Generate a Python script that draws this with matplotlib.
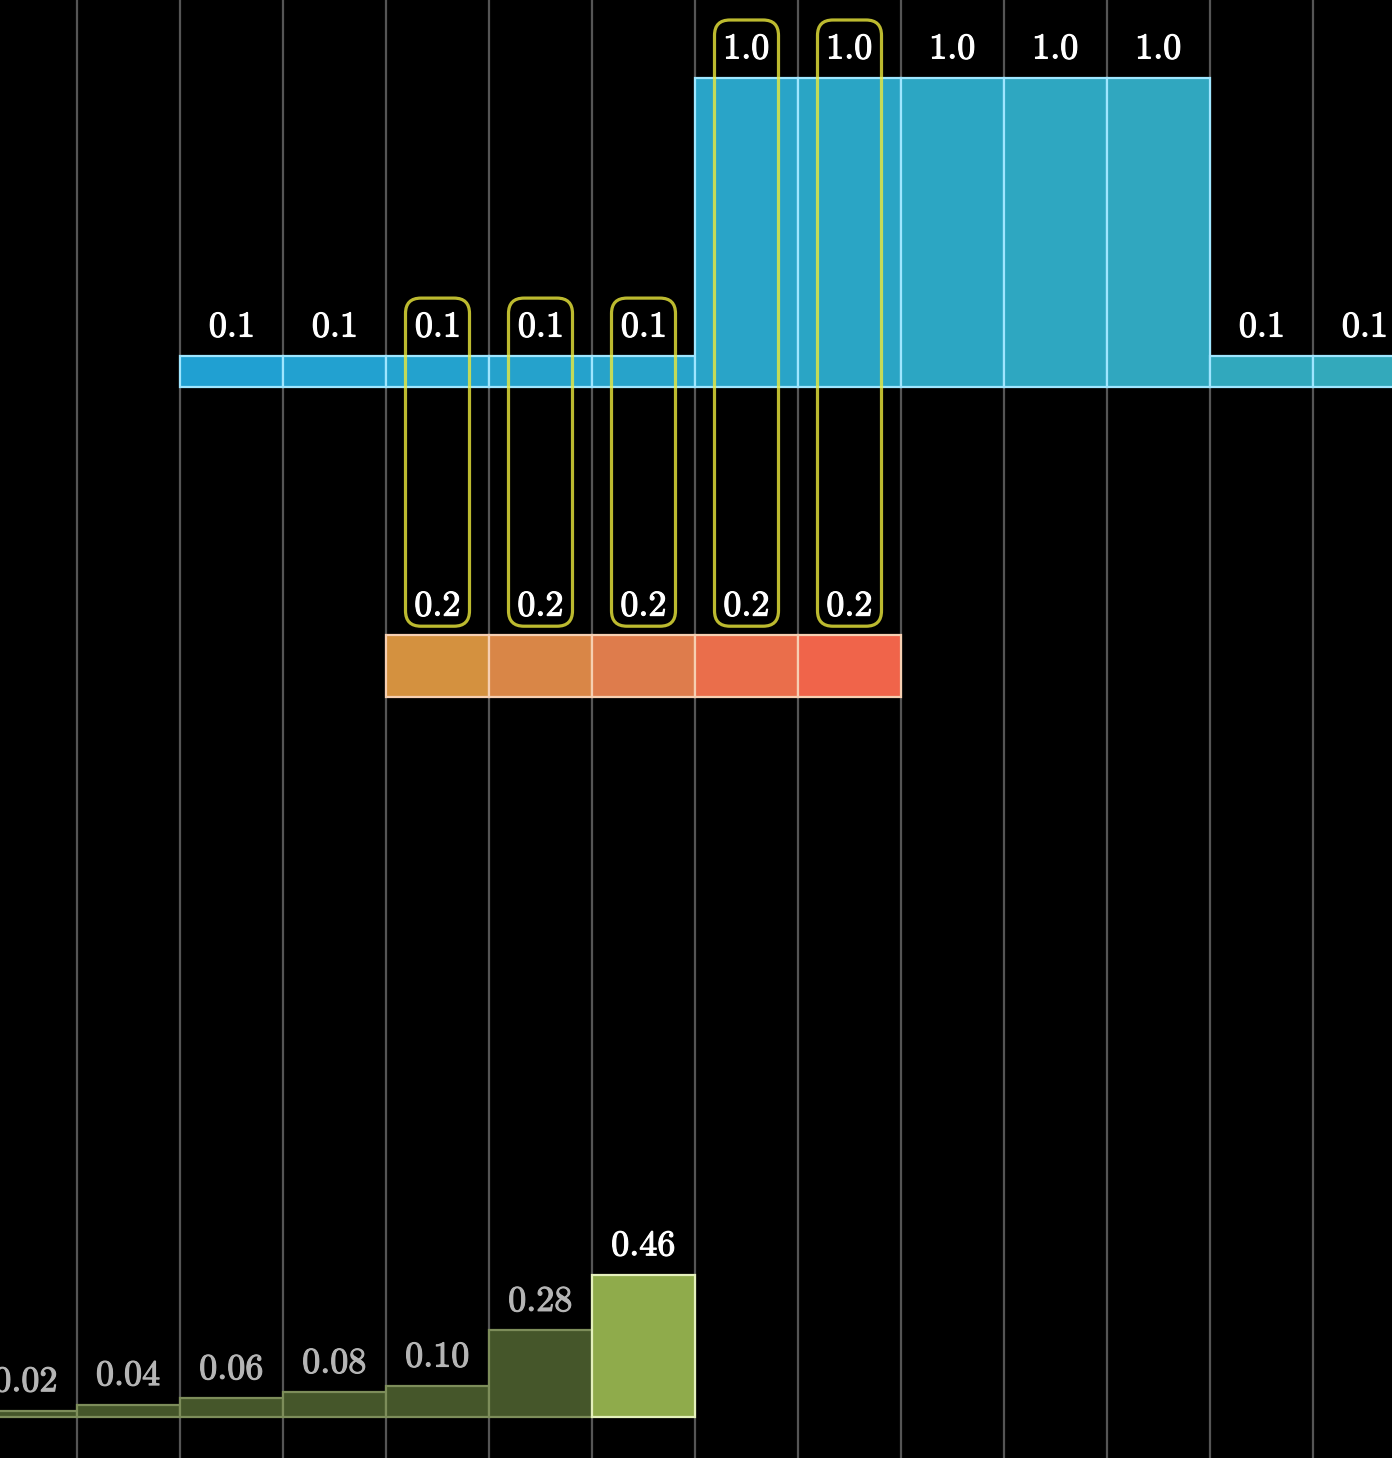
import numpy as np
import matplotlib
matplotlib.use("Agg")
import matplotlib.pyplot as plt
import matplotlib.patheffects as pe
from matplotlib.patches import FancyBboxPatch
from matplotlib.colors import to_rgb

plt.rcParams['mathtext.fontset'] = 'cm'

# ---- data ----
blue_cols = [1, 2, 3, 4, 5, 6, 7, 8, 9, 10, 11, 12]
blue_vals = [0.1, 0.1, 0.1, 0.1, 0.1, 1.0, 1.0, 1.0, 1.0, 1.0, 0.1, 0.1]

orange_cols = [3, 4, 5, 6, 7]
orange_vals = [0.2, 0.2, 0.2, 0.2, 0.2]

green_cols = [-1, 0, 1, 2, 3, 4, 5]
green_vals = [0.02, 0.04, 0.06, 0.08, 0.10, 0.28, 0.46]
highlight_green = 5

paired_cols = [3, 4, 5, 6, 7]

# ---- layout (pixel geometry of the reference) ----
W, H = 1392, 1458
col_px = 103.0
x0_px = 77.0
unit_px = 309.0

blue_base = (H - 387) / unit_px
orange_base = (H - 697) / unit_px
green_base = (H - 1417) / unit_px

fig = plt.figure(figsize=(W / 100, H / 100), dpi=100)
fig.patch.set_facecolor('black')
ax = fig.add_axes([0, 0, 1, 1])
ax.set_facecolor('black')
ax.set_xlim(-x0_px / col_px, (W - x0_px) / col_px)
ax.set_ylim(0, H / unit_px)
ax.axis('off')

# grid lines
ax.vlines(np.arange(-1, 14), 0, H / unit_px, colors='#555555', lw=1.6, zorder=0)

fs = 26

def label(x, y, s, color='white'):
    ax.annotate(s, (x, y), xytext=(0, 14), textcoords='offset points',
                ha='center', va='baseline', color=color, fontsize=fs, zorder=6,
                path_effects=[pe.withStroke(linewidth=0.8, foreground=color)])

# blue bars
c_left, c_right = np.array(to_rgb('#20a0d2')), np.array(to_rgb('#33a9bb'))
t = np.linspace(0, 1, len(blue_cols))
blue_colors = [tuple(c_left * (1 - a) + c_right * a) for a in t]
ax.bar(blue_cols, blue_vals, width=1, align='edge', bottom=blue_base,
       color=blue_colors, edgecolor='#9fe6ff', lw=1.6, zorder=2)
for c, v in zip(blue_cols, blue_vals):
    label(c + 0.5, blue_base + v, f'${v:.1f}$')

# orange bars
orange_colors = ['#d4913f', '#d98647', '#de7c4c', '#ea6e4b', '#f0644a']
ax.bar(orange_cols, orange_vals, width=1, align='edge', bottom=orange_base,
       color=orange_colors, edgecolor='#f6cfb2', lw=1.6, zorder=2)
for c, v in zip(orange_cols, orange_vals):
    label(c + 0.5, orange_base + v, f'${v:.1f}$')

# green bars
g_face = ['#8fab4b' if c == highlight_green else '#45562a' for c in green_cols]
g_edge = ['#e4f0bc' if c == highlight_green else '#7d8d5a' for c in green_cols]
ax.bar(green_cols, green_vals, width=1, align='edge', bottom=green_base,
       color=g_face, edgecolor=g_edge, lw=1.6, zorder=2)
for c, v in zip(green_cols, green_vals):
    label(c + 0.5, green_base + v, f'${v:.2f}$',
          color='white' if c == highlight_green else '#b5b5b5')

# yellow pairing boxes
bv = dict(zip(blue_cols, blue_vals))
ov = dict(zip(orange_cols, orange_vals))
half_w = 32 / col_px
for c in paired_cols:
    top = blue_base + bv[c] + 58 / unit_px
    bot = orange_base + ov[c] + 9 / unit_px
    box = FancyBboxPatch((c + 0.5 - half_w, bot), 2 * half_w, top - bot,
                         boxstyle='round,pad=0,rounding_size=0.15',
                         mutation_aspect=col_px / unit_px,
                         fc='none', ec='#ecea3c', lw=2.3, alpha=0.8, zorder=5)
    ax.add_patch(box)

fig.savefig('out.png', dpi=100, facecolor='black')
